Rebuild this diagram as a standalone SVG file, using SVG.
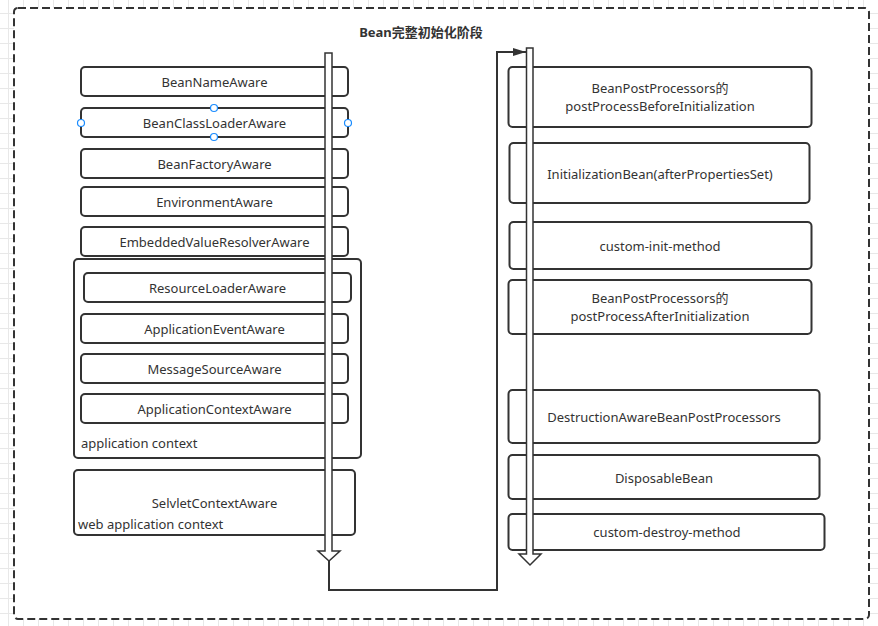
<svg xmlns="http://www.w3.org/2000/svg" width="878" height="626" viewBox="0 0 878 626">
<defs>
<pattern id="grid" width="15" height="15" patternUnits="userSpaceOnUse" x="8" y="13">
<path d="M0 0.5H15M0.5 0V15" fill="none" stroke="#e8e8e8" stroke-width="1"/>
</pattern>
<marker id="tri" viewBox="0 0 10 10" refX="10" refY="5" markerWidth="13" markerHeight="8" markerUnits="userSpaceOnUse" orient="auto" preserveAspectRatio="none">
<path d="M0 0L10 5L0 10Z" fill="#333"/>
</marker>
<style>
.box{fill:#fff;stroke:#333;stroke-width:2}
.grp{fill:none;stroke:#333;stroke-width:2}
.t{font-family:"Noto Sans","Noto Sans CJK SC",sans-serif;font-size:13px;fill:#333;text-anchor:middle}
.tl{font-family:"Noto Sans","Noto Sans CJK SC",sans-serif;font-size:13px;fill:#333}
.title{font-family:"Noto Sans","Noto Sans CJK SC",sans-serif;font-size:13px;font-weight:bold;fill:#333;text-anchor:middle}
.shaft{fill:#fff;stroke:#333;stroke-width:1.5}
.h{fill:#fff;stroke:#1a8cff;stroke-width:1.2}
</style>
</defs>
<rect width="878" height="626" fill="#fff"/>
<rect width="878" height="626" fill="url(#grid)"/>
<rect id="frame" x="14" y="8" width="855" height="611" rx="4" fill="#fff" stroke="#333" stroke-width="2" stroke-dasharray="8 4"/>
<text class="title" x="421" y="37">Bean完整初始化阶段</text>

<g id="n-beanname"><rect class="box" x="81" y="67" width="267" height="29" rx="4"/><text class="t" x="214.5" y="86.5">BeanNameAware</text></g>
<g id="n-classloader"><rect class="box" x="81" y="108" width="267" height="29" rx="4"/><text class="t" x="214.5" y="127.5">BeanClassLoaderAware</text></g>
<g id="n-factory"><rect class="box" x="81" y="149" width="267" height="29" rx="4"/><text class="t" x="214.5" y="168.5">BeanFactoryAware</text></g>
<g id="n-env"><rect class="box" x="81" y="187" width="267" height="29" rx="4"/><text class="t" x="214.5" y="206.5">EnvironmentAware</text></g>
<g id="n-embedded"><rect class="box" x="81" y="227" width="267" height="29" rx="4"/><text class="t" x="214.5" y="246.5">EmbeddedValueResolverAware</text></g>

<g id="g-appctx"><rect class="grp" x="74" y="259" width="287" height="199" rx="4"/><text class="tl" x="81" y="447.5">application context</text></g>
<g id="n-resource"><rect class="box" x="84" y="273" width="267" height="29" rx="4"/><text class="t" x="217.5" y="292.5">ResourceLoaderAware</text></g>
<g id="n-event"><rect class="box" x="81" y="314" width="267" height="29" rx="4"/><text class="t" x="214.5" y="333.5">ApplicationEventAware</text></g>
<g id="n-message"><rect class="box" x="81" y="354" width="267" height="29" rx="4"/><text class="t" x="214.5" y="373.5">MessageSourceAware</text></g>
<g id="n-appctxaware"><rect class="box" x="81" y="394" width="267" height="29" rx="4"/><text class="t" x="214.5" y="413.5">ApplicationContextAware</text></g>

<g id="g-webctx"><rect class="box" x="74" y="470" width="281" height="65" rx="4"/><text class="t" x="214.5" y="507.5">SelvletContextAware</text><text class="tl" x="78" y="528.5">web application context</text></g>

<g id="n-before"><rect class="box" x="508.5" y="67" width="303" height="60" rx="4"/><text class="t" x="660" y="92.5">BeanPostProcessors的</text><text class="t" x="660" y="110.5">postProcessBeforeInitialization</text></g>
<g id="n-initbean"><rect class="box" x="509.5" y="143" width="300" height="60" rx="4"/><text class="t" x="660" y="178.5">InitializationBean(afterPropertiesSet)</text></g>
<g id="n-initmethod"><rect class="box" x="509.5" y="222" width="302" height="47" rx="4"/><text class="t" x="660" y="250.5">custom-init-method</text></g>
<g id="n-after"><rect class="box" x="508.5" y="280" width="303" height="54" rx="4"/><text class="t" x="660" y="302.5">BeanPostProcessors的</text><text class="t" x="660" y="320.5">postProcessAfterInitialization</text></g>
<g id="n-destruction"><rect class="box" x="508.5" y="390" width="311" height="53" rx="4"/><text class="t" x="664" y="421.5">DestructionAwareBeanPostProcessors</text></g>
<g id="n-disposable"><rect class="box" x="508.5" y="455" width="311" height="44" rx="4"/><text class="t" x="664" y="482.5">DisposableBean</text></g>
<g id="n-destroymethod"><rect class="box" x="508.5" y="514" width="316" height="36" rx="4"/><text class="t" x="667" y="536.5">custom-destroy-method</text></g>

<g id="connectors">
<polygon class="shaft" points="325,53 332,53 332,551 340,551 329,561 318,551 325,551"/>
<polygon class="shaft" points="526.5,48 533,48 533,554 541,554 530,565 519,554 526.5,554"/>
<path d="M329 561V590H497V52H526" fill="none" stroke="#333" stroke-width="2" marker-end="url(#tri)"/>
</g>

<g id="handles">
<circle class="h" cx="214" cy="108" r="3.5"/>
<circle class="h" cx="214" cy="137" r="3.5"/>
<circle class="h" cx="81" cy="123" r="3.5"/>
<circle class="h" cx="348" cy="123" r="3.5"/>
</g>
</svg>
